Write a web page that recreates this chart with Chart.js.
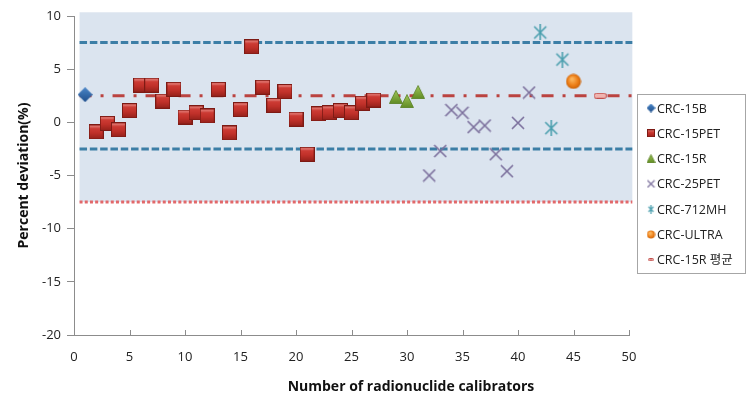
<!DOCTYPE html>
<html><head><meta charset="utf-8">
<script src="https://cdn.jsdelivr.net/npm/chart.js@4.4.1/dist/chart.umd.min.js"></script>
<style>html,body{margin:0;padding:0;background:#fff;}#wrap{width:751px;height:408px;position:relative;}</style>
</head><body><div id="wrap"><canvas id="c" width="751" height="408"></canvas></div>
<script>
// ---------- DATA ----------
const seriesNames = ['CRC-15B','CRC-15PET','CRC-15R','CRC-25PET','CRC-712MH','CRC-ULTRA','CRC-15R 평균'];
const crc15bX = [1];
const crc15bY = [2.6];
const crc15petX = [2,3,4,5,6,7,8,9,10,11,12,13,14,15,16,17,18,19,20,21,22,23,24,25,26,27];
const crc15petY = [-0.9,-0.1,-0.7,1.1,3.5,3.5,2.0,3.1,0.5,0.9,0.6,3.1,-1.0,1.2,7.1,3.3,1.6,2.9,0.3,-3.0,0.8,0.9,1.1,0.9,1.8,2.1];
const crc15rX = [29,30,31];
const crc15rY = [2.4,2.0,2.85];
const crc25petX = [32,33,34,35,36,37,38,39,40,41];
const crc25petY = [-5.0,-2.7,1.15,0.9,-0.45,-0.3,-3.0,-4.6,-0.05,2.8];
const crc712mhX = [42,43,44];
const crc712mhY = [8.45,-0.55,5.9];
const crcUltraX = [45];
const crcUltraY = [3.85];
const crc15rMeanX = [47.4];
const crc15rMeanY = [2.5];
const refLineX = [0.5, 50.3];
const upperLimit = 7.5;
const lowerLimit = -2.5;
const meanLevel = 2.5;
const outerLimit = -7.5;
const bandX = [0.5, 50.3];
const bandY = [-7.5, 10.35];
const xTicks = [0,5,10,15,20,25,30,35,40,45,50];
const yTicks = [-20,-15,-10,-5,0,5,10];
const xTitle = 'Number of radionuclide calibrators';
const yTitle = 'Percent deviation(%)';

// ---------- STYLE ----------
const FONT = "'Open Sans','Noto Sans CJK KR',sans-serif";
function mk(w,h,fn){const c=document.createElement('canvas');c.width=w;c.height=h;fn(c.getContext('2d'),w,h);return c;}
const imgSquare = s => mk(s,s,(g,w,h)=>{
  const gr=g.createLinearGradient(0,0,0,h);gr.addColorStop(0,'#d8463e');gr.addColorStop(0.55,'#c1312a');gr.addColorStop(1,'#92201a');
  g.fillStyle=gr;g.fillRect(0,0,w,h);
  g.strokeStyle='#7d1a14';g.lineWidth=1;g.strokeRect(0.5,0.5,w-1,h-1);
  g.fillStyle='rgba(255,255,255,0.22)';g.fillRect(1,1,w-2,Math.max(1,h*0.15));
});
const imgDiamond = s => mk(s,s,(g,w,h)=>{
  const gr=g.createLinearGradient(0,0,0,h);gr.addColorStop(0,'#4a86c8');gr.addColorStop(1,'#1f4f8c');
  g.fillStyle=gr;g.beginPath();g.moveTo(w/2,0);g.lineTo(w,h/2);g.lineTo(w/2,h);g.lineTo(0,h/2);g.closePath();g.fill();
});
const imgTriangle = s => mk(s,s,(g,w,h)=>{
  const gr=g.createLinearGradient(0,0,0,h);gr.addColorStop(0,'#a3c95a');gr.addColorStop(1,'#5e8a22');
  g.fillStyle=gr;g.beginPath();g.moveTo(w/2,0.5);g.lineTo(w-0.5,h-0.5);g.lineTo(0.5,h-0.5);g.closePath();g.fill();
  g.strokeStyle='#557d1e';g.lineWidth=0.8;g.stroke();
});
const imgCircle = s => mk(s,s,(g,w,h)=>{
  const gr=g.createRadialGradient(w*0.4,h*0.35,1,w/2,h/2,w/2);gr.addColorStop(0,'#fbb35a');gr.addColorStop(0.6,'#ec7d16');gr.addColorStop(1,'#c45f0a');
  g.fillStyle=gr;g.beginPath();g.arc(w/2,h/2,w/2-0.5,0,Math.PI*2);g.fill();
});
const imgCross = (s,lw) => mk(s,s,(g,w,h)=>{
  g.strokeStyle='#7b6f9c';g.lineWidth=lw;g.beginPath();g.moveTo(1,1);g.lineTo(w-1,h-1);g.moveTo(w-1,1);g.lineTo(1,h-1);g.stroke();
});
const imgStar = (s,lw) => mk(s,s,(g,w,h)=>{
  g.strokeStyle='#4b9fae';g.lineWidth=lw;g.beginPath();
  g.moveTo(w/2,0);g.lineTo(w/2,h);g.moveTo(2,2);g.lineTo(w-2,h-2);g.moveTo(w-2,2);g.lineTo(2,h-2);g.stroke();
});
const imgDash = (w,h) => mk(w,h,(g)=>{
  g.fillStyle='#f0b4b0';g.strokeStyle='#c0504d';g.lineWidth=1;
  g.beginPath();g.roundRect?g.roundRect(0.5,0.5,w-1,h-1,2):g.rect(0.5,0.5,w-1,h-1);g.fill();g.stroke();
});

const markers = {
  'CRC-15B':[imgDiamond(15), imgDiamond(9)],
  'CRC-15PET':[imgSquare(15), imgSquare(8)],
  'CRC-15R':[imgTriangle(14), imgTriangle(9)],
  'CRC-25PET':[imgCross(14,1.6), imgCross(9,1.2)],
  'CRC-712MH':[imgStar(16,1.6), imgStar(9,1.2)],
  'CRC-ULTRA':[imgCircle(16), imgCircle(9)],
  'CRC-15R 평균':[imgDash(13,6), imgDash(6,3)]
};
const pts = (xs,ys)=>xs.map((x,i)=>({x:x,y:ys[i]}));
const ptDS = (name,xs,ys)=>({type:'scatter',label:name,data:pts(xs,ys),pointStyle:markers[name][0],pointRadius:8,order:0,clip:false});
const refDS = (lbl,y,color,dash,width)=>({type:'line',label:lbl,data:refLineX.map(x=>({x:x,y:y})),borderColor:color,borderWidth:width,borderDash:dash,borderCapStyle:'butt',pointRadius:0,fill:false,order:5,clip:false});

const datasets = [
  refDS('upper',upperLimit,'#3c7ea6',[7.5,2.8],3),
  refDS('lower',lowerLimit,'#3c7ea6',[7.5,2.8],3),
  refDS('mean',meanLevel,'#bb4340',[12,9,3,9],3),
  refDS('outer',outerLimit,'#e2686a',[3,2.2],3),
  ptDS('CRC-15B',crc15bX,crc15bY),
  ptDS('CRC-15PET',crc15petX,crc15petY),
  ptDS('CRC-15R',crc15rX,crc15rY),
  ptDS('CRC-25PET',crc25petX,crc25petY),
  ptDS('CRC-712MH',crc712mhX,crc712mhY),
  ptDS('CRC-ULTRA',crcUltraX,crcUltraY),
  ptDS('CRC-15R 평균',crc15rMeanX,crc15rMeanY)
];

const decor = {
  id:'decor',
  beforeDatasetsDraw(chart){
    const {ctx,scales:{x,y}}=chart;
    const l=x.getPixelForValue(bandX[0]), r=x.getPixelForValue(bandX[1]);
    const t=y.getPixelForValue(bandY[1]), b=y.getPixelForValue(bandY[0]);
    ctx.save();
    ctx.fillStyle='#dbe4ef';
    ctx.fillRect(l,t,r-l,b-t);
    ctx.restore();
  },
  afterDraw(chart){
    const {ctx,scales:{x,y}}=chart;
    ctx.save();
    // inner x ticks
    ctx.strokeStyle='#8c8c8c';ctx.lineWidth=1;
    xTicks.forEach(v=>{const px=Math.round(x.getPixelForValue(v))+0.5;ctx.beginPath();ctx.moveTo(px,y.bottom);ctx.lineTo(px,y.bottom-5);ctx.stroke();});
    // x title
    ctx.fillStyle='#111';ctx.font="bold 14px "+FONT;ctx.textAlign='center';ctx.textBaseline='middle';
    ctx.fillText(xTitle,411,387);
    // legend
    const lx=637, ly=94, lw=109, lh=180;
    ctx.fillStyle='#fff';ctx.fillRect(lx,ly,lw,lh);
    ctx.strokeStyle='#a6a6a6';ctx.lineWidth=1;ctx.strokeRect(lx+0.5,ly+0.5,lw-1,lh-1);
    ctx.font="12.5px "+FONT;ctx.textAlign='left';ctx.fillStyle='#222';
    seriesNames.forEach((n,i)=>{
      const cy=108+i*25.3;
      const im=markers[n][1];
      ctx.drawImage(im,651-im.width/2,cy-im.height/2);
      ctx.fillText(n,657,cy+1);
    });
    ctx.restore();
  }
};

new Chart(document.getElementById('c'),{
  type:'scatter',
  data:{datasets:datasets},
  plugins:[decor],
  options:{
    responsive:false,animation:false,
    layout:{padding:{top:16,right:122,left:0,bottom:0}},
    plugins:{legend:{display:false},tooltip:{enabled:false}},
    scales:{
      x:{type:'linear',min:0,max:50,
        afterBuildTicks:s=>{s.ticks=xTicks.map(v=>({value:v}));},
        grid:{display:true,drawOnChartArea:false,drawTicks:false},
        border:{display:true,color:'#8c8c8c',width:1},
        ticks:{padding:14,color:'#222',font:{size:13,family:FONT},maxRotation:0,autoSkip:false},
        afterFit:s=>{s.height=73;}
      },
      y:{type:'linear',min:-20,max:10,
        afterBuildTicks:s=>{s.ticks=yTicks.map(v=>({value:v}));},
        grid:{display:true,drawOnChartArea:false,drawTicks:true,tickLength:7,color:'#8c8c8c'},
        border:{display:true,color:'#8c8c8c',width:1},
        ticks:{padding:6,color:'#222',font:{size:13,family:FONT}},
        title:{display:true,text:yTitle,color:'#111',font:{size:14,weight:'bold',family:FONT},padding:{top:16,bottom:0}},
        afterFit:s=>{s.width=74;}
      }
    }
  }
});
</script></body></html>
